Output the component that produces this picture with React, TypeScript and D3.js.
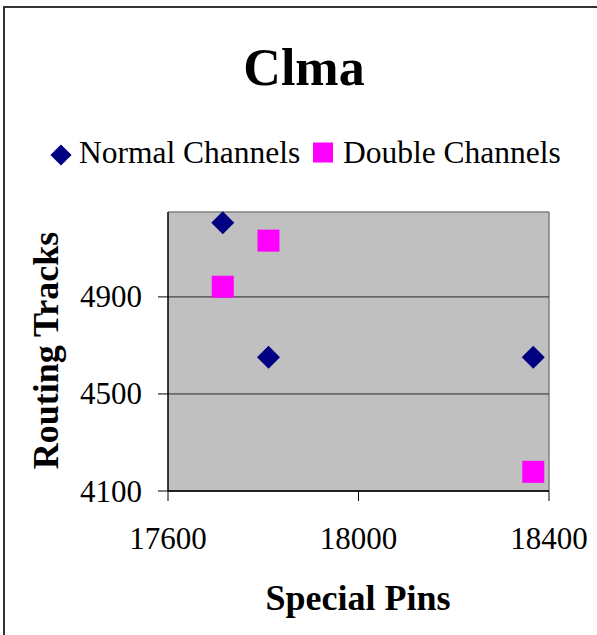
import React from "react";
import * as d3 from "d3";

// Special pins for each configuration (shared by both series)
const specialPins = [17715, 17811, 18367];
// Routing tracks per series
const normalChannels = [5206, 4651, 4651];
const doubleChannels = [4942, 5132, 4179];

const xTicks = [17600, 18000, 18400];
const yTicks = [4100, 4500, 4900];

const W = 597;
const H = 635;
const FONT = "'Liberation Serif', 'Times New Roman', Times, serif";

export default function App() {
  const x = d3.scaleLinear().domain([17600, 18400]).range([168, 549]);
  const y = d3.scaleLinear().domain([4100, 5250]).range([491, 212]);

  const [x0, x1] = x.range();
  const [y0, y1] = y.range();

  const diamond = d3.symbol().type(d3.symbolSquare).size(265)();
  const square = d3.symbol().type(d3.symbolSquare).size(484)();
  const legendDiamond = d3.symbol().type(d3.symbolSquare).size(225)();
  const legendSquare = d3.symbol().type(d3.symbolSquare).size(400)();

  const normalPts = specialPins.map((p, i) => ({ p, v: normalChannels[i] }));
  const doublePts = specialPins.map((p, i) => ({ p, v: doubleChannels[i] }));

  return (
    <svg
      width={W}
      height={H}
      style={{ position: "absolute", left: 0, top: 0, background: "#fff" }}
      fontFamily={FONT}
    >
      {/* chart frame */}
      <rect x={4} y={7} width={W + 10} height={H + 10} fill="#fff" stroke="#333" strokeWidth={2} />

      {/* title */}
      <text x={304} y={85} textAnchor="middle" fontSize={52} fontWeight="bold">
        Clma
      </text>

      {/* legend */}
      <path d={legendDiamond} transform="translate(61,155) rotate(45)" fill="#000080" />
      <text x={79} y={163} fontSize={31.5}>Normal Channels</text>
      <path d={legendSquare} transform="translate(323,152.5)" fill="#FF00FF" />
      <text x={343} y={163} fontSize={31.5}>Double Channels</text>

      {/* plot area */}
      <rect x={x0} y={y1} width={x1 - x0} height={y0 - y1} fill="#C0C0C0" />
      <line x1={x0} x2={x1} y1={y1} y2={y1} stroke="#808080" strokeWidth={1.5} />
      <line x1={x1} x2={x1} y1={y1} y2={y0} stroke="#808080" strokeWidth={1.5} />

      {/* gridlines */}
      {yTicks.map((t) => (
        <line key={"g" + t} x1={x0} x2={x1} y1={y(t)} y2={y(t)} stroke="#2a2a2a" strokeWidth={1} />
      ))}

      {/* axes */}
      <line x1={x0} x2={x0} y1={y1} y2={y0} stroke="#000" strokeWidth={1.5} />
      <line x1={x0} x2={x1} y1={y0} y2={y0} stroke="#000" strokeWidth={1.5} />
      {yTicks.map((t) => (
        <g key={"y" + t}>
          <line x1={x0 - 10} x2={x0} y1={y(t)} y2={y(t)} stroke="#000" strokeWidth={1} />
          <text x={142} y={y(t)} dy="0.34em" textAnchor="end" fontSize={31}>
            {t}
          </text>
        </g>
      ))}
      {xTicks.map((t) => (
        <g key={"x" + t}>
          <line x1={x(t)} x2={x(t)} y1={y0} y2={y0 + 10} stroke="#000" strokeWidth={1} />
          <text x={x(t)} y={549} textAnchor="middle" fontSize={31}>
            {t}
          </text>
        </g>
      ))}

      {/* series */}
      {normalPts.map((d, i) => (
        <path
          key={"n" + i}
          d={diamond}
          transform={`translate(${x(d.p)},${y(d.v)}) rotate(45)`}
          fill="#000080"
        />
      ))}
      {doublePts.map((d, i) => (
        <path
          key={"d" + i}
          d={square}
          transform={`translate(${x(d.p)},${y(d.v)})`}
          fill="#FF00FF"
        />
      ))}

      {/* axis titles */}
      <text x={358} y={610} textAnchor="middle" fontSize={36} fontWeight="bold">
        Special Pins
      </text>
      <text
        transform="translate(58,350.5) rotate(-90)"
        textAnchor="middle"
        fontSize={36}
        fontWeight="bold"
      >
        Routing Tracks
      </text>
    </svg>
  );
}
